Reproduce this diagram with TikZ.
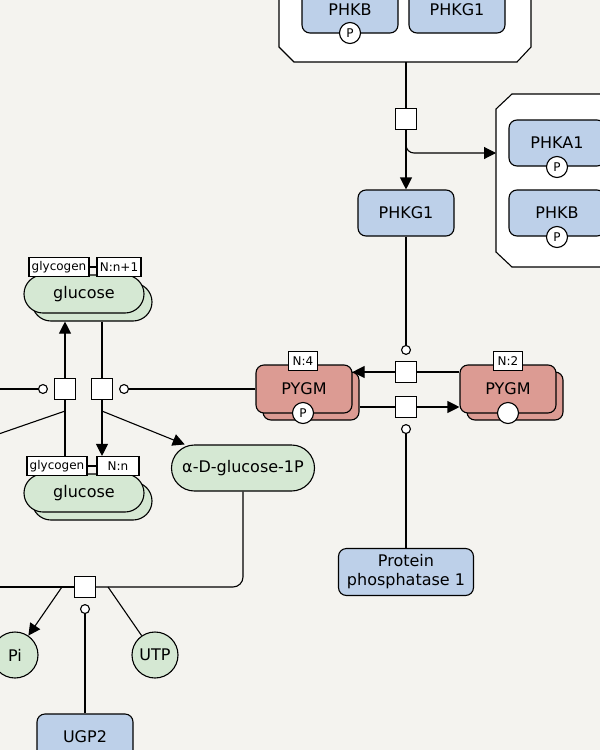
\documentclass[tikz,border=0pt]{standalone}
\usepackage{fontspec}
\setmainfont{DejaVu Sans}
\usetikzlibrary{arrows.meta,calc}
\definecolor{bg}{HTML}{F4F3EF}
\definecolor{macrofill}{HTML}{BDD0E9}
\definecolor{pygmfill}{HTML}{DC9B93}
\definecolor{smfill}{HTML}{D5E8D3}
\newcommand{\mainsz}{\fontsize{16}{19}\selectfont}
\newcommand{\smallsz}{\fontsize{12}{14}\selectfont}
\begin{document}
\begin{tikzpicture}[x=1pt,y=-1pt,line width=1.1pt,
  macro/.style={draw,fill=macrofill,rounded corners=8pt,minimum width=96pt,minimum height=46pt,inner sep=0pt,font=\mainsz,align=center},
  pygmbox/.style={draw,fill=pygmfill,rounded corners=8pt,minimum width=96pt,minimum height=48pt,inner sep=0pt,font=\mainsz},
  simple/.style={draw,fill=smfill,rounded corners=19pt,minimum width=120pt,minimum height=38pt,inner sep=0pt,font=\mainsz},
  smallmol/.style={circle,draw,fill=smfill,minimum size=46pt,inner sep=0pt,font=\mainsz},
  proc/.style={draw,fill=white,minimum size=21pt,inner sep=0pt},
  svar/.style={draw,fill=white,circle,minimum size=21pt,inner sep=0pt,font=\smallsz},
  unitbox/.style={draw,fill=white,minimum height=19pt,inner sep=1pt,font=\smallsz},
  prod/.style={-{Triangle[length=12pt,width=12pt]}},
  cat/.style={-{Circle[length=10pt,fill=white]}}]
\useasboundingbox (0,0) rectangle (600,750);
\clip (0,0) rectangle (600,750);
\fill[bg] (0,0) rectangle (600,750);

% complexes
\draw[fill=white] (279,-30) -- (279,47) -- (294,62) -- (517,62) -- (531,47) -- (531,-30);
\coordinate (cx1b) at (406,62);
\draw[fill=white] (620,94) -- (512,94) -- (496,109) -- (496,252) -- (512,267) -- (620,267);
\coordinate (cx2l) at (496,153);

% top complex members
\node[macro] (phkbtop) at (350,10) {PHKB};
\node[svar] (phkbtopP) at (350,33) {P};
\node[macro] (phkg1top) at (457,10) {PHKG1};

% right complex members
\node[macro] (phka1) at (557,143) {PHKA1};
\node[svar] (phka1P) at (557,167) {P};
\node[macro] (phkbr) at (557,213) {PHKB};
\node[svar] (phkbrP) at (557,237) {P};

% PHKG1
\node[macro] (phkg1) at (406,213) {PHKG1};
\node[proc] (p1) at (406,119) {};

% PYGM
\node[pygmbox] (pygm1b) at (311,396) {};
\node[pygmbox] (pygm1) at (304,389) {PYGM};
\node[unitbox,minimum width=29pt] (pygm1n) at (303,361) {N:4};
\node[svar] (pygm1P) at (303,413) {P};
\node[pygmbox] (pygm2b) at (515,396) {};
\node[pygmbox] (pygm2) at (508,389) {PYGM};
\node[unitbox,minimum width=29pt] (pygm2n) at (508,361) {N:2};
\node[svar] (pygm2s) at (508,413) {};
\node[proc] (p2) at (406,372) {};
\node[proc] (p3) at (406,407) {};
\node[macro,minimum width=135pt,minimum height=47pt] (pp1) at (406,572) {Protein\\phosphatase 1};

% glucose
\node[simple] (glc1b) at (92,302) {};
\node[simple] (glc1) at (84,294) {glucose};
\node[unitbox,minimum width=60pt] (gl1u) at (59,267) {glycogen};
\node[unitbox,minimum width=44pt] (gl1n) at (119,267) {N:n+1};
\draw (gl1u) -- (gl1n);
\node[simple] (glc2b) at (92,501) {};
\node[simple] (glc2) at (84,493) {glucose};
\node[unitbox,minimum width=60pt] (gl2u) at (57,466) {glycogen};
\node[unitbox,minimum width=42pt] (gl2n) at (118,466) {N:n};
\draw (gl2u) -- (gl2n);
\node[proc] (p4) at (65,389) {};
\node[proc] (p5) at (102,389) {};

\node[simple,minimum width=143pt,minimum height=46pt,rounded corners=23pt] (adg) at (243,468) {α-D-glucose-1P};
\node[proc] (p6) at (85,587) {};
\node[smallmol] (pi) at (15,655) {Pi};
\node[smallmol] (utp) at (155,655) {UTP};
\node[macro] (ugp2) at (85,737) {UGP2};

% connectors: phosphorylase kinase
\draw (cx1b) -- (p1);
\draw[prod] (p1) -- (phkg1);
\draw[prod,rounded corners=8pt] (p1.south) -- (406,153) -- (cx2l);
\draw[cat] (phkg1) -- ($(p2.north)+(0,-6)$);
\draw[prod] (p2) -- (p2 -| pygm1.east);
\draw (pygm2.west |- p2) -- (p2);
\draw (pygm1b.east |- p3) -- (p3);
\draw[prod] (p3) -- (p3 -| pygm2.west);
\draw[cat] (pp1) -- ($(p3.south)+(0,6)$);

% glycogen
\coordinate (l1) at (-5,389);
\coordinate (l2) at (-10,437);
\draw[cat] (l1) -- ($(p4.west)+(-6,0)$);
\draw[cat] (pygm1) -- ($(p5.east)+(6,0)$);
\draw[prod] (p4) -- (p4 |- glc1b.south);
\draw (p4 |- gl2u.north) -- (p4);
\draw (l2) -- ($(p4.south)+(0,11)$);
\draw (p5 |- glc1b.south) -- (p5);
\draw[prod] (p5) -- (p5 |- gl2n.north);
\draw[prod] ($(p5.south)+(0,11)$) -- (adg);

% UGP2 reaction
\coordinate (l3) at (-5,587);
\draw[rounded corners=10pt] (adg.south) -- (adg.south |- p6) -- (p6);
\draw (l3) -- (p6);
\draw[prod] ($(p6.west)+(-12,0)$) -- (pi);
\draw ($(p6.east)+(12,0)$) -- (utp);
\draw[cat] (ugp2) -- ($(p6.south)+(0,6)$);
\end{tikzpicture}
\end{document}
